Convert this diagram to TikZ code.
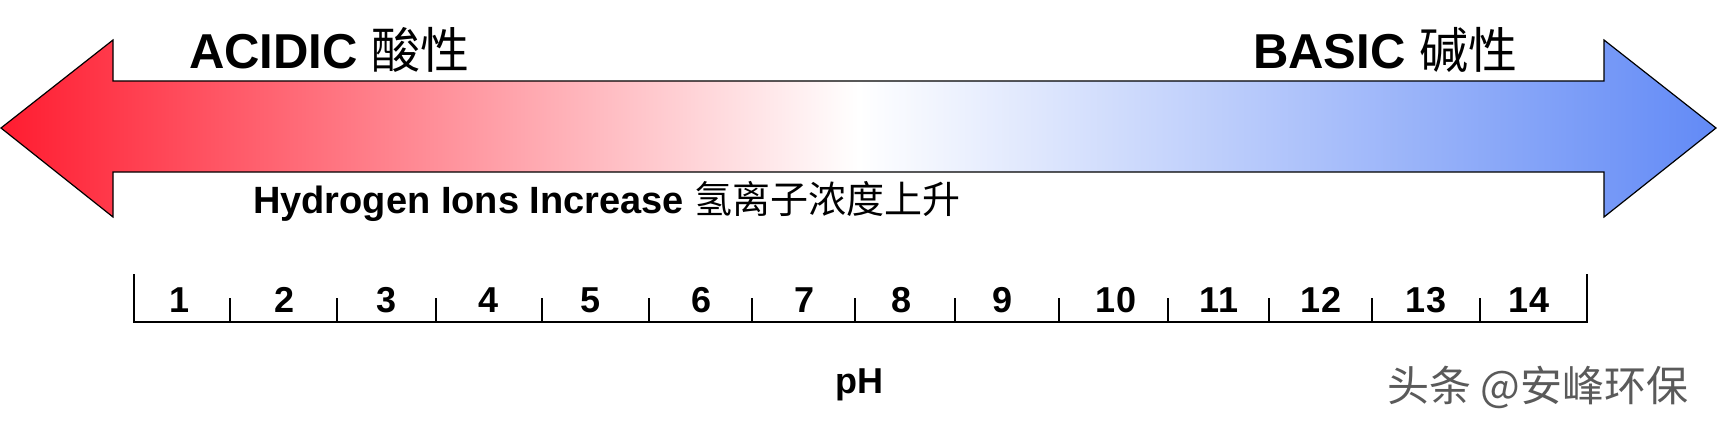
\documentclass[tikz,border=0pt]{standalone}
\usepackage{fontspec}
\setmainfont{Liberation Sans}
\newfontfamily\cjk{Noto Sans CJK SC}
\definecolor{acidred}{RGB}{255,28,48}
\definecolor{basicblue}{RGB}{98,138,246}
\definecolor{markgray}{RGB}{90,90,90}
\tikzset{
  sidelabel/.style={font=\fontsize{49}{55}\selectfont\bfseries, anchor=base west, inner sep=0pt},
  ionlabel/.style={font=\fontsize{38}{42}\selectfont\bfseries, anchor=base west, inner sep=0pt},
  phnum/.style={font=\fontsize{36}{40}\selectfont\bfseries, anchor=base, inner sep=0pt},
  watermark/.style={font=\fontsize{42}{46}\selectfont\cjk, text=markgray, anchor=base west, inner sep=0pt}
}
\begin{document}
\begin{tikzpicture}[x=1pt,y=-1pt]
  \useasboundingbox (0,0) rectangle (1718,425);
  % double arrow
  \draw[line width=1.2pt, left color=acidred, right color=basicblue, middle color=white]
    (1,128) -- (113,40) -- (113,81) -- (1604,81) -- (1604,40) -- (1716,128)
    -- (1604,217) -- (1604,172) -- (113,172) -- (113,217) -- cycle;
  \node[sidelabel] (acid) at (189,69) {ACIDIC {\cjk\mdseries 酸性}};
  \node[sidelabel] (base) at (1253,69) {BASIC {\cjk\mdseries 碱性}};
  \node[ionlabel] (ions) at (253,213) {Hydrogen Ions Increase {\cjk\mdseries 氢离子浓度上升}};
  % pH scale
  \draw[line width=2.6pt] (134,322) -- (1587,322);
  \draw[line width=1.2pt] (134,274) -- (134,323);
  \draw[line width=1.2pt] (1587,274) -- (1587,323);
  \foreach \x in {230,337,436,542,649,752,855,955,1059,1168,1269,1372,1480} % ticks
    \draw[line width=1.2pt] (\x,298) -- (\x,322);
  \foreach \x/\n in {180/1,285/2,387/3,489/4,591/5,702/6,804/7,901/8,1002/9,1116/10,1219/11,1321/12,1426/13,1529/14} % numbers
    \node[phnum] (n\n) at (\x,312) {\n};
  \node[phnum] (ph) at (859,393) {pH};
  \node[watermark] (mark) at (1387,401) {头条 @安峰环保};
\end{tikzpicture}
\end{document}
